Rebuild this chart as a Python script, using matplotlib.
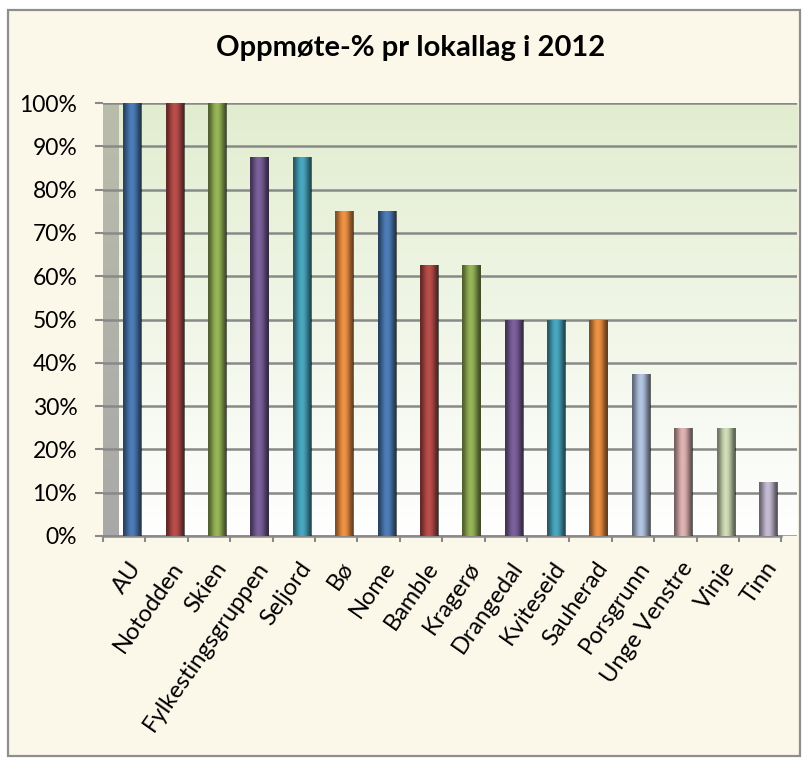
import numpy as np
import matplotlib.pyplot as plt
from matplotlib.patches import Rectangle

plt.rcParams['font.family'] = ['Lato', 'DejaVu Sans']

title = 'Oppmøte-% pr lokallag i 2012'
lokallag = ['AU', 'Notodden', 'Skien', 'Fylkestingsgruppen', 'Seljord', 'Bø',
            'Nome', 'Bamble', 'Kragerø', 'Drangedal', 'Kviteseid', 'Sauherad',
            'Porsgrunn', 'Unge Venstre', 'Vinje', 'Tinn']
oppmote = [100, 100, 100, 87.5, 87.5, 75, 75, 62.5, 62.5, 50, 50, 50,
           37.5, 25, 25, 12.5]
colors = ['#4F81BD', '#C0504D', '#9BBB59', '#8064A2', '#4BACC6', '#F79646',
          '#4F81BD', '#C0504D', '#9BBB59', '#8064A2', '#4BACC6', '#F79646',
          '#B9CBEA', '#E8B9B9', '#D7E4BD', '#CCC1DA']
yticks = list(range(0, 101, 10))

W, H = 802, 760
fig = plt.figure(figsize=(W / 100, H / 100), dpi=100, facecolor='white')

# chart frame
frame = Rectangle((8 / W, 4 / H), 792 / W, 746 / H, transform=fig.transFigure,
                  facecolor='#FBF8EA', edgecolor='#8E8E8E', lw=1.6, zorder=-5)
fig.patches.append(frame)

fig.text(411 / W, 1 - 48 / H, title, ha='center', va='center',
         fontsize=21, fontweight='bold', color='black')

ax = fig.add_axes([103 / W, 224 / H, 694 / W, 433 / H])
ax.set_facecolor('none')
depth = 0.37
n = len(lokallag)
ax.set_xlim(0, n + depth)
ax.set_ylim(0, 100)

# back wall gradient (green at top, white at bottom)
grad = np.linspace(0, 1, 256).reshape(-1, 1)
top = np.array([0.886, 0.929, 0.812])
bot = np.array([1.0, 1.0, 1.0])
img = bot + (top - bot) * grad[:, :, None] * np.ones((1, 1, 3))
ax.imshow(img, extent=[depth, n + depth, 0, 100], origin='lower',
          aspect='auto', zorder=0)
# side wall
side_top = np.array([0.73, 0.74, 0.67])
side_bot = np.array([0.66, 0.66, 0.66])
simg = side_bot + (side_top - side_bot) * grad[:, :, None] * np.ones((1, 1, 3))
ax.imshow(simg, extent=[0, depth, 0, 100], origin='lower', aspect='auto', zorder=0)

for y in yticks:
    ax.plot([0, n + depth], [y, y], color='#898989', lw=1.8, zorder=1)

x = np.arange(n) + 0.5 + 0.19
bars = ax.bar(x, oppmote, width=0.43, color=colors, zorder=3)
# cylinder-like shading
shade = np.array([[0.5, 0.2, 0.0, 0.05, 0.3, 0.6]])
for b in bars:
    bx, bw, bh = b.get_x(), b.get_width(), b.get_height()
    im = ax.imshow(np.dstack([np.zeros((1, 6, 3)), shade[:, :, None]]),
                   extent=[bx, bx + bw, 0, bh], aspect='auto',
                   interpolation='bicubic', zorder=4)
    im.set_clip_path(b)

for s in ['top', 'right', 'left', 'bottom']:
    ax.spines[s].set_visible(False)
ax.plot([0, n], [0, 0], color='#898989', lw=1.8, zorder=2, clip_on=False)

ax.set_yticks(yticks)
ax.set_yticklabels([f'{v}%' for v in yticks], fontsize=16.5)
ax.tick_params(axis='y', length=6, width=1.5, color='#898989', pad=12.5)
ax.set_xticks(range(n + 1))
ax.set_xticklabels([])
ax.tick_params(axis='x', length=4.5, width=1.5, color='#898989')

for i, name in enumerate(lokallag):
    ax.text(i + 0.5 + 0.3, -0.064, name, transform=ax.get_xaxis_transform(),
            rotation=55, rotation_mode='anchor', ha='right', va='center',
            fontsize=17)

fig.savefig('out.png', dpi=100, facecolor=fig.get_facecolor())
